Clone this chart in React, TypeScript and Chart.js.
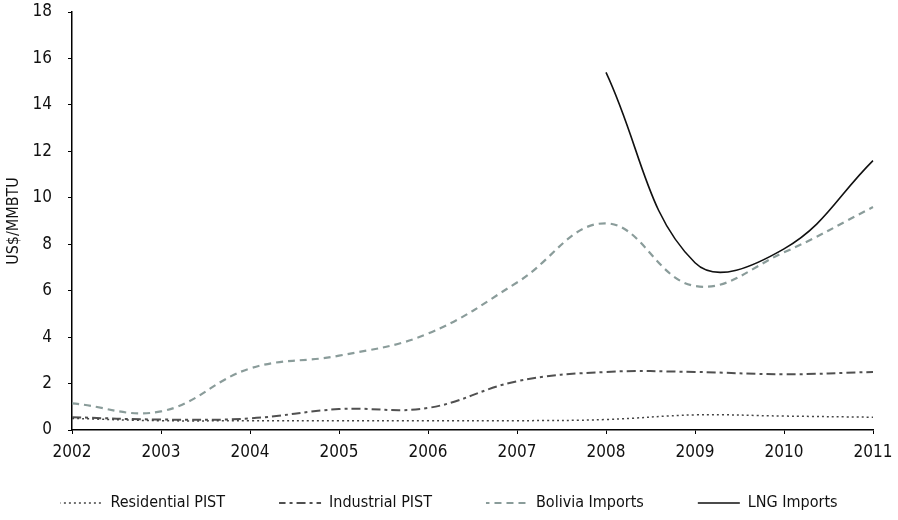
import React, { useEffect, useRef } from "react";
import { Chart, registerables } from "chart.js";

Chart.register(...registerables);

const years = ["2002", "2003", "2004", "2005", "2006", "2007", "2008", "2009", "2010", "2011"];
const residentialPIST = [0.5, 0.4, 0.4, 0.4, 0.4, 0.4, 0.45, 0.65, 0.6, 0.55];
const industrialPIST = [0.55, 0.45, 0.5, 0.9, 0.95, 2.1, 2.5, 2.5, 2.4, 2.5];
const boliviaImports = [1.15, 0.8, 2.65, 3.2, 4.15, 6.35, 8.9, 6.2, 7.65, 9.6];
const lngImports = [null, null, null, null, null, null, 15.4, 7.2, 7.8, 11.6];

const FONT = "'DejaVu Sans Condensed', 'DejaVu Sans', sans-serif";
const STRETCH = "condensed";
const LEGEND_PAD = 54;
const LEGEND_FONT = 16;
// dash offsets so the zero-height legend sample keeps its dash pattern visible
const LEGEND_DASH_OFFSET = [1.5, 2.5, 3.5, 0];

const legendShift = {
  id: "legendShift",
  afterLayout(chart: any) {
    const lg = chart.legend;
    if (lg) lg.top = 503 - LEGEND_PAD - LEGEND_FONT / 2;
  },
};

export default function App() {
  const ref = useRef<HTMLCanvasElement>(null);

  useEffect(() => {
    if (!ref.current) return;
    const chart = new Chart(ref.current, {
      type: "line",
      plugins: [legendShift],
      data: {
        labels: years,
        datasets: [
          {
            label: "Residential PIST",
            data: residentialPIST,
            borderColor: "#444444",
            borderWidth: 1.5,
            borderDash: [2, 3],
            pointRadius: 0,
            tension: 0.4,
            fill: false,
          },
          {
            label: "Industrial PIST",
            data: industrialPIST,
            borderColor: "#505050",
            borderWidth: 2,
            borderDash: [9, 4, 3, 4],
            pointRadius: 0,
            tension: 0.4,
            fill: false,
          },
          {
            label: "Bolivia Imports",
            data: boliviaImports,
            borderColor: "#8a9c9a",
            borderWidth: 2.2,
            borderDash: [7, 5],
            pointRadius: 0,
            tension: 0.4,
            fill: false,
          },
          {
            label: "LNG Imports",
            data: lngImports,
            borderColor: "#111111",
            borderWidth: 1.6,
            pointRadius: 0,
            tension: 0.4,
            fill: false,
          },
        ],
      },
      options: {
        responsive: false,
        animation: false,
        layout: { padding: 0 },
        plugins: {
          legend: {
            position: "bottom",
            maxHeight: 44,
            labels: {
              boxWidth: 42,
              boxHeight: 0,
              padding: LEGEND_PAD,
              color: "#111",
              font: { family: FONT, size: LEGEND_FONT, weight: STRETCH },
              generateLabels: (c: any) => {
                const items = Chart.defaults.plugins.legend.labels.generateLabels(c);
                return items.map((it: any, i: number) => ({
                  ...it,
                  fillStyle: "rgba(0,0,0,0)",
                  lineDashOffset: LEGEND_DASH_OFFSET[i] || 0,
                }));
              },
            },
          },
          tooltip: { enabled: false },
        },
        scales: {
          x: {
            type: "category",
            offset: false,
            afterFit: (s: any) => {
              s.height = 46;
              s.paddingLeft = 0;
              s.paddingRight = 25;
            },
            grid: {
              drawOnChartArea: false,
              drawTicks: true,
              tickLength: 4,
              color: "#000",
            },
            border: { display: true, color: "#000", width: 1.5, dash: [1.5, 2] },
            ticks: {
              color: "#111",
              padding: 8,
              maxRotation: 0,
              font: { family: FONT, size: 17, weight: STRETCH },
            },
          },
          y: {
            min: 0,
            max: 18,
            afterFit: (s: any) => {
              s.width = 72;
              s.paddingTop = 12;
              s.paddingBottom = 0;
            },
            grid: {
              drawOnChartArea: false,
              drawTicks: true,
              tickLength: 4,
              color: "#000",
            },
            border: { display: true, color: "#000", width: 1.5, dash: [1.5, 2] },
            ticks: {
              stepSize: 2,
              color: "#111",
              padding: 16,
              font: { family: FONT, size: 17, weight: STRETCH },
            },
            title: {
              display: true,
              text: "US$/MMBTU",
              color: "#111",
              padding: { top: 4, bottom: 0 },
              font: { family: FONT, size: 16, weight: STRETCH },
            },
          },
        },
      },
    } as any);
    return () => chart.destroy();
  }, []);

  return (
    <div style={{ position: "absolute", left: 0, top: 0, width: 898, height: 520, background: "#fff" }}>
      <canvas ref={ref} width={898} height={520} />
    </div>
  );
}
